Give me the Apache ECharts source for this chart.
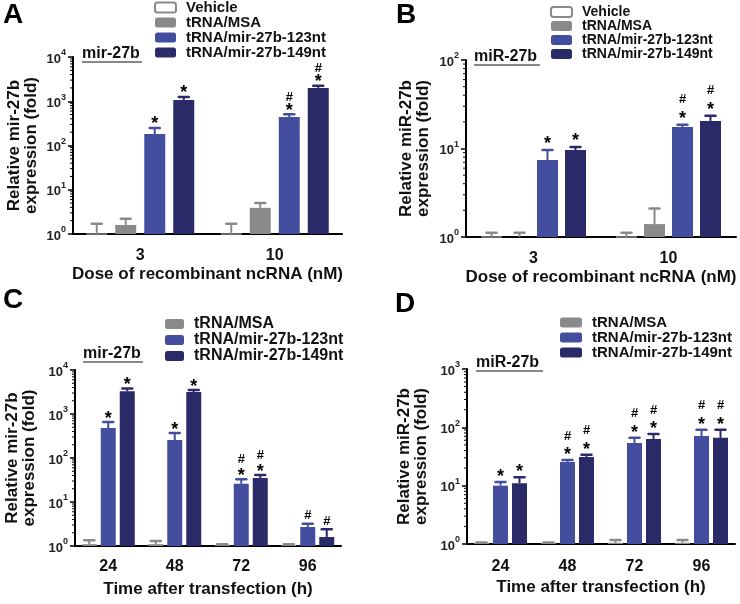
<!DOCTYPE html>
<html><head><meta charset="utf-8">
<script src="https://cdn.jsdelivr.net/npm/echarts@6/dist/echarts.min.js"></script>
<style>html,body{margin:0;padding:0;background:#fff}#c{width:740px;height:604px}</style>
</head><body><div id="c"></div>
<script>
// ---------- data ----------
const doseCats = ['3', '10'];
const timeCats = ['24', '48', '72', '96'];
const names = ['Vehicle', 'tRNA/MSA', 'tRNA/mir-27b-123nt', 'tRNA/mir-27b-149nt'];

// Panel A  (mir-27b, dose)
const aVehicle = [1, 1];        const aVehicleErr = [1.7, 1.7];
const aMSA = [1.6, 3.9];        const aMSAErr = [2.2, 5.0];
const a123 = [182, 440];        const a123Err = [250, 510];
const a149 = [1070, 2000];      const a149Err = [1250, 2250];
const aMarks123 = ['*', '#*'];  const aMarks149 = ['*', '#*'];

// Panel B  (miR-27b, dose)
const bVehicle = [1, 1];        const bVehicleErr = [1.12, 1.12];
const bMSA = [1, 1.4];          const bMSAErr = [1.12, 2.1];
const b123 = [7.4, 17.5];       const b123Err = [9.6, 18.5];
const b149 = [9.6, 20.5];       const b149Err = [10.4, 23.4];
const bMarks123 = ['*', '#*'];  const bMarks149 = ['*', '#*'];

// Panel C  (mir-27b, time)
const cMSA = [1.1, 1.1, 1.05, 1.05];  const cMSAErr = [1.35, 1.3, 1.1, 1.1];
const c123 = [480, 257, 26, 2.7];     const c123Err = [660, 370, 33, 3.2];
const c149 = [3300, 3160, 35, 1.6];   const c149Err = [3800, 3500, 41, 2.4];
const cMarks123 = ['*', '*', '#*', '#'];
const cMarks149 = ['*', '*', '#*', '#'];

// Panel D  (miR-27b, time)
const dMSA = [1.05, 1.05, 1.05, 1.05]; const dMSAErr = [1.06, 1.06, 1.17, 1.17];
const d123 = [10, 25.5, 54, 71];       const d123Err = [11.6, 27.6, 66, 91];
const d149 = [11, 31, 63, 66];         const d149Err = [14, 34, 77, 91];
const dMarks123 = ['*', '#*', '#*', '#*'];
const dMarks149 = ['*', '#*', '#*', '#*'];

// ---------- styles ----------
const FONT = '"Liberation Sans", Arial, Helvetica, sans-serif';
const TXT = '#111';
const styleOf = {
  'Vehicle': { fill: '#ffffff', border: '#8a8a8a', err: '#8a8a8a' },
  'tRNA/MSA': { fill: '#8a8a8a', border: '#8a8a8a', err: '#8a8a8a' },
  'tRNA/mir-27b-123nt': { fill: '#434e9f', border: '#434e9f', err: '#434e9f' },
  'tRNA/mir-27b-149nt': { fill: '#2a2a68', border: '#2a2a68', err: '#2a2a68' }
};

const panels = [
  { grid: { left: 73, top: 57, width: 269, height: 177 }, cats: doseCats, max: 10000,
    groups: [
      { name: names[0], v: aVehicle, e: aVehicleErr, m: null },
      { name: names[1], v: aMSA, e: aMSAErr, m: null },
      { name: names[2], v: a123, e: a123Err, m: aMarks123 },
      { name: names[3], v: a149, e: a149Err, m: aMarks149 } ],
    bw: 21, gap: 8, yName: 'Relative mir-27b\nexpression (fold)', xName: 'Dose of recombinant ncRNA (nM)',
    yGap: 33, xGap: 32, lblMargin: 14, starOff: 3.5, hashOff: 17,
    legend: { left: 154, top: 0, fs: 15, lh: 15, iw: 21 }, letter: ['A', 3, 1],
    sub: { text: 'mir-27b', x: 82, y: 54, w: 60 } },
  { grid: { left: 466, top: 60, width: 270, height: 177 }, cats: doseCats, max: 100,
    groups: [
      { name: names[0], v: bVehicle, e: bVehicleErr, m: null },
      { name: names[1], v: bMSA, e: bMSAErr, m: null },
      { name: names[2], v: b123, e: b123Err, m: bMarks123 },
      { name: names[3], v: b149, e: b149Err, m: bMarks149 } ],
    bw: 21, gap: 7, yName: 'Relative miR-27b\nexpression (fold)', xName: 'Dose of recombinant ncRNA (nM)',
    yGap: 34, xGap: 32, lblMargin: 14, starOff: 6, hashOff: 25,
    legend: { left: 550, top: 5, fs: 14, lh: 14, iw: 21 }, letter: ['B', 396, 1],
    sub: { text: 'miR-27b', x: 474, y: 57, w: 66 } },
  { grid: { left: 75, top: 370, width: 266, height: 176 }, cats: timeCats, max: 10000,
    groups: [
      { name: names[1], v: cMSA, e: cMSAErr, m: null },
      { name: names[2], v: c123, e: c123Err, m: cMarks123 },
      { name: names[3], v: c149, e: c149Err, m: cMarks149 } ],
    bw: 15, gap: 4, yName: 'Relative mir-27b\nexpression (fold)', xName: 'Time after transfection (h)',
    yGap: 37, xGap: 35, lblMargin: 13, starOff: 3, hashOff: 20,
    legend: { left: 165, top: 316, fs: 16, lh: 15, iw: 19 }, letter: ['C', 3, 286],
    sub: { text: 'mir-27b', x: 83, y: 354, w: 60 } },
  { grid: { left: 467, top: 369, width: 268, height: 175 }, cats: timeCats, max: 1000,
    groups: [
      { name: names[1], v: dMSA, e: dMSAErr, m: null },
      { name: names[2], v: d123, e: d123Err, m: dMarks123 },
      { name: names[3], v: d149, e: d149Err, m: dMarks149 } ],
    bw: 15, gap: 4, yName: 'Relative miR-27b\nexpression (fold)', xName: 'Time after transfection (h)',
    yGap: 37, xGap: 35, lblMargin: 15, starOff: 5, hashOff: 24,
    legend: { left: 560, top: 315, fs: 15, lh: 15, iw: 22 }, letter: ['D', 395, 290],
    sub: { text: 'miR-27b', x: 476, y: 363, w: 67 } }
];

// minor-tick positions of a log axis (2..9 within each decade)
function minorTicks(max) {
  const out = [];
  for (let d = 1; d < max; d *= 10) for (let k = 2; k <= 9; k++) out.push([0, d * k]);
  return out;
}

const option = {
  animation: false,
  backgroundColor: '#fff',
  textStyle: { fontFamily: FONT },
  grid: [], xAxis: [], yAxis: [], legend: [], series: [], graphic: []
};

panels.forEach((p, pi) => {
  option.grid.push(Object.assign({ containLabel: false, outerBoundsMode: 'none' }, p.grid));
  option.xAxis.push({
    type: 'category', gridIndex: pi, data: p.cats,
    axisLine: { lineStyle: { color: '#000', width: 2 } },
    axisTick: { alignWithLabel: true, length: 5, lineStyle: { color: '#000', width: 2 } },
    axisLabel: { fontSize: 16, fontWeight: 'bold', color: TXT, margin: p.lblMargin, fontFamily: FONT },
    name: p.xName, nameLocation: 'middle', nameGap: p.xGap,
    nameTextStyle: { fontSize: 17, fontWeight: 'bold', color: TXT, fontFamily: FONT },
    splitLine: { show: false }
  });
  option.yAxis.push({
    type: 'log', logBase: 10, gridIndex: pi, min: 1, max: p.max,
    axisLine: { show: true, lineStyle: { color: '#000', width: 2 } },
    axisTick: { show: true, length: 5, lineStyle: { color: '#000', width: 1.5 } },
    splitLine: { show: false },
    axisLabel: {
      margin: 7,
      formatter: v => '{b|10}{s|' + Math.round(Math.log10(v)) + '}',
      rich: {
        b: { fontSize: 13, fontWeight: 'bold', color: '#222', fontFamily: FONT, lineHeight: 17, verticalAlign: 'bottom' },
        s: { fontSize: 9, fontWeight: 'bold', color: '#222', fontFamily: FONT, lineHeight: 9, verticalAlign: 'top' }
      }
    },
    name: p.yName, nameLocation: 'middle', nameRotate: 90, nameGap: p.yGap,
    nameTextStyle: { fontSize: 17, fontWeight: 'bold', color: TXT, fontFamily: FONT, lineHeight: 17 }
  });

  const n = p.groups.length;
  p.groups.forEach((g, gi) => {
    const st = styleOf[g.name];
    option.series.push({
      type: 'bar', name: g.name, xAxisIndex: pi, yAxisIndex: pi, data: g.v,
      barWidth: p.bw, barGap: (p.gap / p.bw * 100) + '%',
      itemStyle: { color: st.fill, borderColor: st.border, borderWidth: g.name === 'Vehicle' ? 1.5 : 0 },
      silent: true, z: 2
    });
    const off = (gi - (n - 1) / 2) * (p.bw + p.gap);
    option.series.push({
      type: 'custom', name: 'err' + pi + '_' + gi, xAxisIndex: pi, yAxisIndex: pi,
      data: g.v.map((v, k) => [k, v, g.e[k]]), z: 3, silent: true, clip: false,
      renderItem: (params, api) => {
        const k = api.value(0);
        const p0 = api.coord([k, api.value(1)]);
        const p1 = api.coord([k, api.value(2)]);
        const x = p0[0] + off;
        const ch = [
          { type: 'line', shape: { x1: x, y1: p0[1], x2: x, y2: p1[1] }, style: { stroke: st.err, lineWidth: 2 } },
          { type: 'line', shape: { x1: x - 5, y1: p1[1], x2: x + 5, y2: p1[1] }, style: { stroke: st.err, lineWidth: 2.5, lineCap: 'round' } }
        ];
        const m = g.m ? g.m[params.dataIndex] : '';
        if (m) {
          const hasStar = m.indexOf('*') >= 0;
          const hasHash = m.indexOf('#') >= 0;
          if (hasStar) ch.push({ type: 'text', style: { text: '*', x: x, y: p1[1] - p.starOff, align: 'center', verticalAlign: 'middle', fontSize: 18, fontWeight: 'bold', fontFamily: FONT, fill: '#000' } });
          if (hasHash) ch.push({ type: 'text', style: { text: '#', x: x, y: p1[1] - (hasStar ? p.hashOff : 8), align: 'center', verticalAlign: 'middle', fontSize: 13, fontWeight: 'bold', fontFamily: FONT, fill: '#000' } });
        }
        return { type: 'group', children: ch };
      }
    });
  });

  // minor ticks on the log axis
  option.series.push({
    type: 'custom', name: 'minor' + pi, xAxisIndex: pi, yAxisIndex: pi, silent: true, clip: false, z: 4,
    data: minorTicks(p.max),
    renderItem: (params, api) => {
      const c = api.coord([0, api.value(1)]);
      const x = c[0] - api.size([1, 0])[0] / 2;
      return { type: 'line', shape: { x1: x - 3, y1: c[1], x2: x, y2: c[1] }, style: { stroke: '#000', lineWidth: 1 } };
    }
  });

  option.legend.push({
    orient: 'vertical', left: p.legend.left, top: p.legend.top, padding: 0,
    itemWidth: p.legend.iw, itemHeight: 10, itemGap: 0, icon: 'roundRect',
    selectedMode: false,
    data: p.groups.map(g => g.name),
    textStyle: { fontSize: p.legend.fs, fontWeight: 'bold', color: TXT, fontFamily: FONT, lineHeight: p.legend.lh, padding: [0, 0, 0, 5] }
  });

  option.graphic.push(
    { type: 'text', left: p.letter[1], top: p.letter[2], style: { text: p.letter[0], font: 'bold 28px ' + FONT, fill: '#000' } },
    { type: 'text', x: p.sub.x, y: p.sub.y, style: { text: p.sub.text, x: 0, y: 0, verticalAlign: 'middle', font: 'bold 16px ' + FONT, fill: TXT } },
    { type: 'line', shape: { x1: p.sub.x, y1: p.sub.y + 8, x2: p.sub.x + p.sub.w, y2: p.sub.y + 8 }, style: { stroke: TXT, lineWidth: 1.2 } }
  );
});

const chart = echarts.init(document.getElementById('c'), null, { renderer: 'canvas' });
chart.setOption(option);
</script></body></html>
